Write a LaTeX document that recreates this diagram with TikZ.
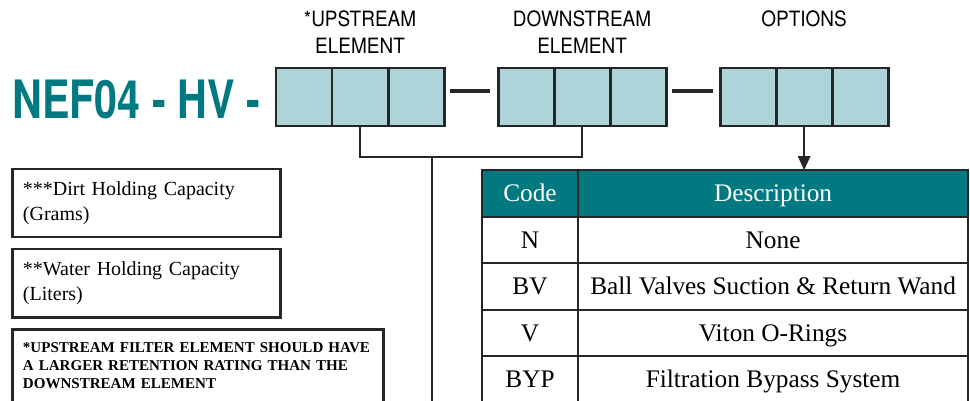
\documentclass[tikz,border=0pt]{standalone}
\usepackage{fontspec}
\setmainfont{Liberation Serif}
\newfontfamily\titlefont[FakeStretch=0.78]{TeX Gyre Heros}
\newfontfamily\labelfont[FakeStretch=0.9]{TeX Gyre Heros}
\usetikzlibrary{arrows.meta, positioning, math, calc}
\definecolor{nefteal}{RGB}{0,122,128}
\definecolor{cellblue}{RGB}{174,211,216}

\begin{document}
\begin{tikzpicture}[x=0.025cm, y=-0.025cm]
		\tikzmath{
			\cellW     = 14;     %cell width
			\cellH     = 14.5;   %cell height
			\groupDist = 13.5;   %distance between each group of cells
			\codeW     = 24;     %code column width
			\descW     = 97.5;   %description column width
			\rowH      = 11.625; %table row height
		}
		\tikzstyle{Cell} = [
			draw=black!85,
			fill=cellblue,
			line width=2.1pt,
			outer sep=0pt,
			minimum width=\cellW mm,
			minimum height=\cellH mm
		]
		\tikzstyle{Label} = [
			align=center,
			font=\labelfont\fontsize{15}{19}\selectfont
		]
		\tikzstyle{Link} = [
			draw=black!85,
			line width=1.8pt
		]
		\tikzstyle{TableBase} = [
			draw=black!85,
			line width=1.6pt,
			outer sep=0pt,
			text centered,
			text height=14pt,
			text depth=2pt,
			minimum height=\rowH mm,
			font=\fontsize{18}{21}\selectfont
		]
		\tikzstyle{HeadCell} = [
			fill=nefteal,
			text=white,
			TableBase
		]
		\tikzstyle{CodeCell} = [
			minimum width=\codeW mm,
			TableBase
		]
		\tikzstyle{DescCell} = [
			minimum width=\descW mm,
			TableBase
		]
		\tikzstyle{NoteBox} = [
			draw=black!85,
			line width=2.1pt,
			align=left,
			inner xsep=2.5mm,
			outer sep=0pt,
			font=\fontsize{14.2}{17.7}\selectfont
		]
		\useasboundingbox (0,0) rectangle (970,400);

		%%%%%%%%%%%%%%%%%%%%%%%%%%===---PART NUMBER---===%%%%%%%%%%%%%%%%%%%%%%%%%%
		\node (title) [anchor=base west, inner sep=0pt, text=nefteal] at (12,119)
			{\titlefont\bfseries\fontsize{37.6}{40}\selectfont NEF04 - HV -};
		\node (11) [Cell] at (304,97) {};
			\node (12) [Cell, right = 0mm of 11] {};
			\node (13) [Cell, right = 0mm of 12] {};
		\node (21) [Cell, right = \groupDist mm of 13] {};
			\node (22) [Cell, right = 0mm of 21] {};
			\node (23) [Cell, right = 0mm of 22] {};
		\node (31) [Cell, right = \groupDist mm of 23] {};
			\node (32) [Cell, right = 0mm of 31] {};
			\node (33) [Cell, right = 0mm of 32] {};
		\draw [Link, line width=3pt, shorten <=1.4mm, shorten >=1.9mm] ([yshift=1.5mm]13.east) -- ([yshift=1.5mm]21.west);
		\draw [Link, line width=3pt, shorten <=1.4mm, shorten >=1.9mm] ([yshift=1.5mm]23.east) -- ([yshift=1.5mm]31.west);
		%%%%%%%%%%%%%%%%%%%%%%%%%%===---LABELS---===%%%%%%%%%%%%%%%%%%%%%%%%%%
		\node (up) [Label, above = 2.4mm of 12] {*UPSTREAM\\ELEMENT};
		\node (down) [Label, above = 2.4mm of 22] {DOWNSTREAM\\ELEMENT};
		\node (opt) [Label, anchor=north] at (up.north -| 32) {OPTIONS};
		%%%%%%%%%%%%%%%%%%%%%%%%%%===---CONNECTORS---===%%%%%%%%%%%%%%%%%%%%%%%%%%
		\draw [Link] (12.south) -- ++(0,31) -| (22.south);
		\coordinate (tap) at ($(12.south) + (72,31)$);
		\coordinate (tapEnd) at ($(tap) + (0,260)$);
		\draw [Link] (tap) -- (tapEnd);
		%%%%%%%%%%%%%%%%%%%%%%%%%%===---OPTIONS TABLE---===%%%%%%%%%%%%%%%%%%%%%%%%%%
		\node (h1) [HeadCell, minimum width=\codeW mm] at (530,193.5) {Code};
			\node (h2) [HeadCell, minimum width=\descW mm, right = 0mm of h1] {Description};
		\node (r11) [CodeCell, below = 0mm of h1] {N};
			\node (r12) [DescCell, right = 0mm of r11] {None};
		\node (r21) [CodeCell, below = 0mm of r11] {BV};
			\node (r22) [DescCell, right = 0mm of r21] {Ball Valves Suction \& Return Wand};
		\node (r31) [CodeCell, below = 0mm of r21] {V};
			\node (r32) [DescCell, right = 0mm of r31] {Viton O-Rings};
		\node (r41) [CodeCell, below = 0mm of r31] {BYP};
			\node (r42) [DescCell, right = 0mm of r41] {Filtration Bypass System};
		\draw [Link, -{Triangle[length=3.5mm, width=3mm]}] (32.south) -- (32.south |- h2.north);
		%%%%%%%%%%%%%%%%%%%%%%%%%%===---NOTES---===%%%%%%%%%%%%%%%%%%%%%%%%%%
		\node (dirt) [NoteBox, text width=61.75mm, minimum height=17mm] at (146.5,203)
			{***Dirt Holding Capacity\\(Grams)};
		\node (water) [NoteBox, text width=61.75mm, minimum height=17mm, below = 3mm of dirt]
			{**Water Holding Capacity\\(Liters)};
		\node (warn) [NoteBox, text width=87.5mm, minimum height=18.5mm,
			font=\bfseries\fontsize{10.7}{12.8}\selectfont,
			below = 3mm of water.south west, anchor=north west]
			{*UPSTREAM FILTER ELEMENT SHOULD HAVE\\A LARGER RETENTION RATING THAN THE\\DOWNSTREAM ELEMENT};
\end{tikzpicture}
\end{document}
